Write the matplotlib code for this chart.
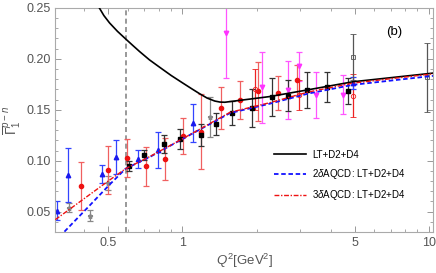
import matplotlib
matplotlib.use("Agg")
import matplotlib.pyplot as plt
from matplotlib.ticker import FixedLocator, NullFormatter

plt.rcParams["font.family"] = ["Liberation Sans", "DejaVu Sans"]
plt.rcParams["mathtext.fontset"] = "custom"
plt.rcParams["mathtext.rm"] = "Liberation Sans"
plt.rcParams["mathtext.it"] = "Liberation Sans:italic"

# theory curves (Q^2 [GeV^2], Gamma_1^{p-n})
lt_q2 = [0.46, 0.48, 0.506, 0.545, 0.588, 0.630, 0.670, 0.735, 0.808, 0.90, 1.0, 1.09, 1.176, 1.26, 1.353, 1.42, 1.486, 1.877, 2.265, 3.0, 4.92, 10.4]
lt_val = [0.250, 0.2425, 0.2353, 0.2270, 0.2196, 0.2130, 0.2072, 0.1990, 0.1918, 0.1837, 0.1765, 0.1707, 0.1657, 0.1615, 0.1586, 0.1576, 0.1574, 0.1605, 0.1630, 0.1682, 0.1775, 0.1860]

aqcd2_q2 = [0.332, 0.42, 0.506, 0.588, 0.736, 1.0, 1.176, 1.56, 2.265, 3.25, 4.92, 10.4]
aqcd2_val = [0.0304, 0.056, 0.0765, 0.0922, 0.1036, 0.1213, 0.1306, 0.1468, 0.1560, 0.1660, 0.1745, 0.1833]

aqcd3_q2 = [0.305, 0.42, 0.506, 0.588, 0.736, 1.0, 1.176, 1.56, 2.265, 3.25, 4.92, 10.4]
aqcd3_val = [0.0422, 0.0667, 0.0810, 0.0922, 0.1040, 0.1215, 0.1310, 0.1475, 0.1570, 0.1675, 0.1762, 0.1853]

q2_match = 0.59

# data sets
black_q2 = [0.608, 0.699, 0.845, 0.980, 1.187, 1.366, 1.594, 1.908, 2.307, 2.687, 3.19, 3.85, 4.69]
black_val = [0.0945, 0.1054, 0.1162, 0.1211, 0.1255, 0.1363, 0.1468, 0.1520, 0.1625, 0.1638, 0.1696, 0.1723, 0.1687]
black_err = [0.005, 0.005, 0.009, 0.010, 0.011, 0.011, 0.012, 0.0186, 0.019, 0.015, 0.0174, 0.0147, 0.0127]

opensq_q2 = [4.94, 9.81]
opensq_val = [0.2017, 0.182]
opensq_err = [0.0226, 0.034]

red_q2 = [0.386, 0.498, 0.598, 0.711, 0.850, 1.006, 1.195, 1.434, 1.71, 2.03, 2.433, 2.907]
red_val = [0.0756, 0.0906, 0.1027, 0.0945, 0.1020, 0.1243, 0.1285, 0.1517, 0.1598, 0.1680, 0.1664, 0.1794]
red_err = [0.0235, 0.0235, 0.0186, 0.019, 0.0206, 0.0176, 0.037, 0.0206, 0.0186, 0.029, 0.0167, 0.015]

redopen_q2 = [1.97, 2.98, 4.94]
redopen_val = [0.170, 0.1647, 0.164]
redopen_err = [0.02, 0.015, 0.021]

blue_q2 = [0.31, 0.343, 0.473, 0.536, 0.662, 0.796, 1.104, 4.94]
blue_val = [0.051, 0.0863, 0.0873, 0.1037, 0.102, 0.1108, 0.137, 0.1765]
blue_err = [0.009, 0.0265, 0.0088, 0.0167, 0.0088, 0.0176, 0.0186, 0.006]

gray_q2 = [0.348, 0.420, 0.498, 1.291]
gray_val = [0.0537, 0.0462, 0.0785, 0.1425]
gray_err = [0.0044, 0.0054, 0.0069, 0.0196]

mag_q2 = [1.50, 2.095, 2.687, 2.98, 3.47, 4.50]
mag_val = [0.2252, 0.1719, 0.1696, 0.1925, 0.1647, 0.1647]
mag_err = [0.044, 0.035, 0.0284, 0.0147, 0.0226, 0.0193]

fig = plt.figure(figsize=(4.36, 2.73), dpi=100)
ax = fig.add_axes([0.127, 0.150, 0.866, 0.821])

eb = dict(ls="none", capsize=2.2, elinewidth=0.9, capthick=0.9)
ax.errorbar(gray_q2, gray_val, yerr=gray_err, fmt="*", color="#888888", ms=3.5, **eb)
ax.errorbar(mag_q2, mag_val, yerr=mag_err, fmt="v", color="#ff33ff", ecolor="#ff55ff", ms=3.2, **eb)
ax.errorbar(red_q2, red_val, yerr=red_err, fmt="o", color="#ee1111", ecolor="#f06060", ms=3.0, **eb)
ax.errorbar(redopen_q2, redopen_val, yerr=redopen_err, fmt="o", color="#ee2222", mfc="none", mew=0.6, ms=3.2, **eb)
ax.errorbar(blue_q2, blue_val, yerr=blue_err, fmt="^", color="#1a1aee", ecolor="#3344ff", ms=3.2, **eb)
ax.errorbar(opensq_q2, opensq_val, yerr=opensq_err, fmt="s", color="#555555", mfc="none", mew=0.6, ms=3.4, **eb)
ax.errorbar(black_q2, black_val, yerr=black_err, fmt="s", color="black", ecolor="#333333", ms=3.4, **eb)

ax.plot(lt_q2, lt_val, color="black", lw=1.2, label="LT+D2+D4", zorder=5)
ax.plot(aqcd2_q2, aqcd2_val, color="#1111ff", lw=1.3, ls=(0, (2.5, 1.5)),
        label=r"2$\delta$AQCD: LT+D2+D4", zorder=5)
ax.plot(aqcd3_q2, aqcd3_val, color="#ee1111", lw=1.0, ls=(0, (3.5, 1.2, 1, 1.2)),
        label=r"3$\delta$AQCD: LT+D2+D4", zorder=5)

ax.axvline(q2_match, color="#888888", lw=1.2, ls=(0, (3, 2)), zorder=1)

ax.set_xscale("log")
ax.set_xlim(0.305, 10.4)
ax.set_ylim(0.03, 0.25)

ax.xaxis.set_major_locator(FixedLocator([0.5, 1, 5, 10]))
ax.xaxis.set_minor_locator(FixedLocator([0.4, 0.6, 0.7, 0.8, 0.9, 2, 3, 4, 6, 7, 8, 9]))
ax.xaxis.set_minor_formatter(NullFormatter())
ax.set_xticklabels(["0.5", "1", "5", "10"])
ax.yaxis.set_major_locator(FixedLocator([0.05, 0.10, 0.15, 0.20, 0.25]))
ax.yaxis.set_minor_locator(FixedLocator([0.04 + 0.01 * i for i in range(21) if (4 + i) % 5]))
ax.set_yticklabels(["0.05", "0.10", "0.15", "0.20", "0.25"])

ax.tick_params(which="both", direction="in", top=True, right=True,
               colors="#999999", labelcolor="#555555", labelsize=9)
ax.tick_params(which="major", length=4.5, width=0.7)
ax.tick_params(which="minor", length=2.5, width=0.6)
for s in ax.spines.values():
    s.set_color("#aaaaaa")
    s.set_linewidth(0.8)

ax.set_xlabel(r"$Q^2$[GeV$^2$]", fontsize=9.5, color="#555555", labelpad=2)
ax.set_ylabel(r"$\overline{\Gamma}_1^{p-n}$", fontsize=10, color="#555555", labelpad=2)

ax.text(0.897, 0.894, "(b)", transform=ax.transAxes, ha="center", va="center", fontsize=9.5)

leg = ax.legend(loc="center left", bbox_to_anchor=(0.58, 0.25), frameon=False,
                fontsize=7, handlelength=3.3, handletextpad=0.6, labelspacing=0.75,
                borderpad=0, borderaxespad=0)

fig.savefig("out.png", dpi=100)
